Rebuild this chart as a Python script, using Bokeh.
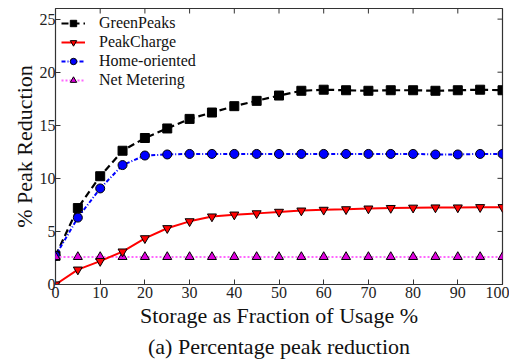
import math
from bokeh.plotting import figure
from bokeh.models import Legend, LegendItem, FixedTicker, Title, Range1d
from bokeh.embed import file_html
from bokeh.resources import INLINE

storage = [0, 5, 10, 15, 20, 25, 30, 35, 40, 45, 50, 55, 60, 65, 70, 75, 80, 85, 90, 95, 100]
greenpeaks = [2.7, 7.2, 10.2, 12.6, 13.8, 14.7, 15.6, 16.2, 16.8, 17.3, 17.8, 18.25, 18.35, 18.3,
              18.25, 18.3, 18.3, 18.25, 18.3, 18.35, 18.3]
peakcharge = [0.0, 1.4, 2.2, 3.1, 4.35, 5.3, 5.95, 6.4, 6.58, 6.7, 6.84, 6.96, 7.03, 7.08,
              7.15, 7.2, 7.23, 7.25, 7.25, 7.28, 7.28]
home = [2.7, 6.3, 9.05, 11.25, 12.15, 12.25, 12.3, 12.3, 12.3, 12.3, 12.3, 12.3, 12.3, 12.3,
        12.3, 12.3, 12.3, 12.25, 12.25, 12.3, 12.3]
netmeter = [2.6] * 21
x_ticks = [0, 10, 20, 30, 40, 50, 60, 70, 80, 90, 100]
y_ticks = [0, 5, 10, 15, 20, 25]
X_MAX = 100
Y_MAX = 26

SERIF = "Liberation Serif"

p = figure(frame_width=447, frame_height=276, output_backend="svg", toolbar_location=None,
           x_range=Range1d(0, X_MAX), y_range=Range1d(0, Y_MAX))
p.min_border_top = 8
p.min_border_right = 7
p.min_border_left = 55
p.min_border_bottom = 10
p.grid.visible = False
p.outline_line_color = "#333333"
p.outline_line_width = 1.2
p.background_fill_color = "white"
p.border_fill_color = "white"

xa = p.xaxis[0]
ya = p.yaxis[0]
for ax in (xa, ya):
    ax.major_tick_in = 5
    ax.major_tick_out = 0
    ax.minor_tick_line_color = None
    ax.axis_line_color = None
    ax.major_label_text_font = SERIF
    ax.major_label_text_font_size = "16px"
    ax.major_label_text_line_height = 1.0
    ax.major_label_text_color = "#222222"
    ax.axis_label_text_font = SERIF
    ax.axis_label_text_font_size = "22px"
    ax.axis_label_text_line_height = 1.0
    ax.axis_label_text_font_style = "normal"
    ax.axis_label_text_color = "#111111"
    ax.major_tick_line_color = "#333333"

xa.ticker = FixedTicker(ticks=x_ticks)
ya.ticker = FixedTicker(ticks=y_ticks)
xa.axis_label = "Storage as Fraction of Usage %"
ya.axis_label = "% Peak Reduction"
xa.major_label_standoff = 2
xa.axis_label_standoff = 2
ya.major_label_standoff = 0
ya.axis_label_standoff = 0

# inward ticks on top and right edges (half of each dash is clipped by the frame)
p.scatter(x_ticks, [Y_MAX] * len(x_ticks), marker="dash", angle=math.pi / 2, size=10,
          line_color="#333333", line_width=1)
p.scatter([X_MAX] * len(y_ticks), y_ticks, marker="dash", size=10,
          line_color="#333333", line_width=1)

l1 = p.line(storage, greenpeaks, line_color="black", line_width=2.2, line_dash="7 4")
m1 = p.scatter(storage, greenpeaks, marker="square", size=9, fill_color="black", line_color="black")
l3 = p.line(storage, home, line_color="blue", line_width=2, line_dash="4 2 1 2")
m3 = p.scatter(storage, home, marker="circle", size=9, fill_color="blue", line_color="black")
l4 = p.line(storage, netmeter, line_color="#ff66ff", line_width=2, line_dash="2 2")
m4 = p.scatter(storage, netmeter, marker="triangle", size=9, fill_color="#dd00dd", line_color="black")
l2 = p.line(storage, peakcharge, line_color="red", line_width=2)
m2 = p.scatter(storage, peakcharge, marker="inverted_triangle", size=9, fill_color="red", line_color="black")

legend = Legend(items=[
    LegendItem(label="GreenPeaks", renderers=[l1, m1]),
    LegendItem(label="PeakCharge", renderers=[l2, m2]),
    LegendItem(label="Home-oriented", renderers=[l3, m3]),
    LegendItem(label="Net Metering", renderers=[l4, m4]),
], location="top_left")
legend.border_line_color = None
legend.background_fill_alpha = 0
legend.label_text_font = SERIF
legend.label_text_font_size = "16px"
legend.label_text_line_height = 1.0
legend.label_text_color = "#111111"
legend.glyph_width = 24
legend.glyph_height = 16
legend.label_height = 16
legend.spacing = 1
legend.padding = 4
legend.margin = 6
legend.label_standoff = 14
p.add_layout(legend)

title = Title(text="(a) Percentage peak reduction", align="center",
              text_font=SERIF, text_font_size="22px", text_line_height=1.0,
              text_font_style="normal", text_color="#111111", offset=-8, standoff=2)
p.add_layout(title, "below")

open("out.html", "w").write(file_html(p, INLINE))
